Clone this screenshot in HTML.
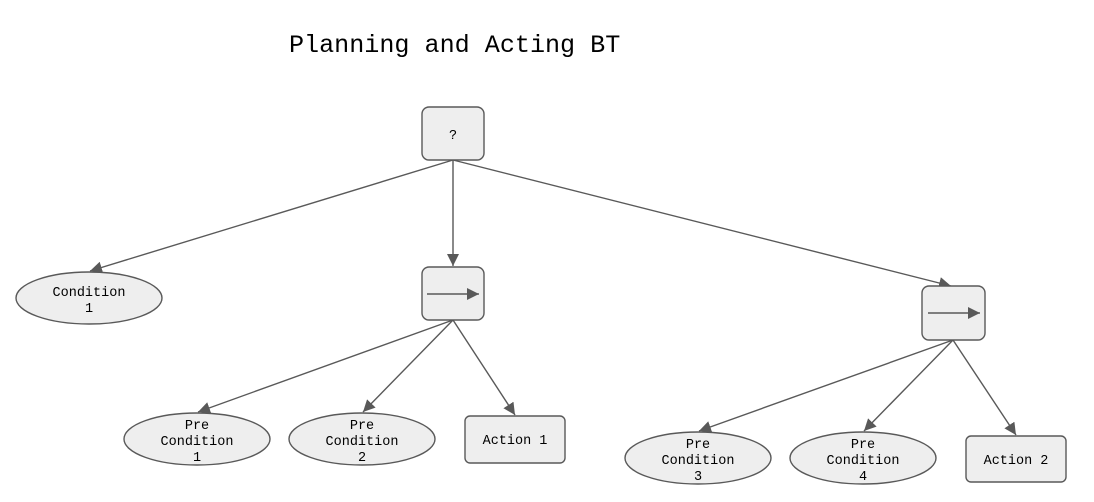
<!DOCTYPE html>
<html><head><meta charset="utf-8"><style>
html,body{margin:0;padding:0;background:#fff;}
svg{display:block;}
text{font-family:"Liberation Mono","DejaVu Sans Mono",monospace;fill:#000;}
</style></head><body>
<svg width="1094" height="502" viewBox="0 0 1094 502" xmlns="http://www.w3.org/2000/svg">
<defs>
<marker id="a" viewBox="0 0 10 10" refX="10" refY="5" markerWidth="12" markerHeight="12" markerUnits="userSpaceOnUse" orient="auto">
<path d="M0,0 L10,5 L0,10 z" fill="#595959"/></marker>
</defs>
<text x="289" y="52" font-size="25.1">Planning and Acting BT</text>
<g stroke="#595959" stroke-width="1.4" fill="none" marker-end="url(#a)">
<line x1="453" y1="160" x2="90" y2="271"/>
<line x1="453" y1="160" x2="453" y2="266"/>
<line x1="453" y1="160" x2="951" y2="286"/>
<line x1="453" y1="320" x2="198" y2="412"/>
<line x1="453" y1="320" x2="363" y2="412"/>
<line x1="453" y1="320" x2="515" y2="415"/>
<line x1="953" y1="340" x2="699" y2="431"/>
<line x1="953" y1="340" x2="864" y2="431"/>
<line x1="953" y1="340" x2="1016" y2="435"/>
</g>
<g fill="#eeeeee" stroke="#595959" stroke-width="1.4">
<rect x="422" y="107" width="62" height="53" rx="7"/>
<rect x="422" y="267" width="62" height="53" rx="7"/>
<rect x="922" y="286" width="63" height="54" rx="7"/>
<ellipse cx="89" cy="298" rx="73" ry="26"/>
<ellipse cx="197" cy="439" rx="73" ry="26"/>
<ellipse cx="362" cy="439" rx="73" ry="26"/>
<rect x="465" y="416" width="100" height="47" rx="5"/>
<ellipse cx="698" cy="458" rx="73" ry="26"/>
<ellipse cx="863" cy="458" rx="73" ry="26"/>
<rect x="966" y="436" width="100" height="46" rx="5"/>
</g>
<g stroke="#595959" stroke-width="1.6" marker-end="url(#a)">
<line x1="427" y1="294" x2="479" y2="294"/>
<line x1="928" y1="313" x2="980" y2="313"/>
</g>
<g font-size="13.5" text-anchor="middle">
<text x="453" y="139">?</text>
<text x="89" y="296">Condition</text><text x="89" y="312">1</text>
<text x="197" y="429">Pre</text><text x="197" y="445">Condition</text><text x="197" y="461">1</text>
<text x="362" y="429">Pre</text><text x="362" y="445">Condition</text><text x="362" y="461">2</text>
<text x="515" y="444">Action 1</text>
<text x="698" y="448">Pre</text><text x="698" y="464">Condition</text><text x="698" y="480">3</text>
<text x="863" y="448">Pre</text><text x="863" y="464">Condition</text><text x="863" y="480">4</text>
<text x="1016" y="464">Action 2</text>
</g>
</svg>
</body></html>
